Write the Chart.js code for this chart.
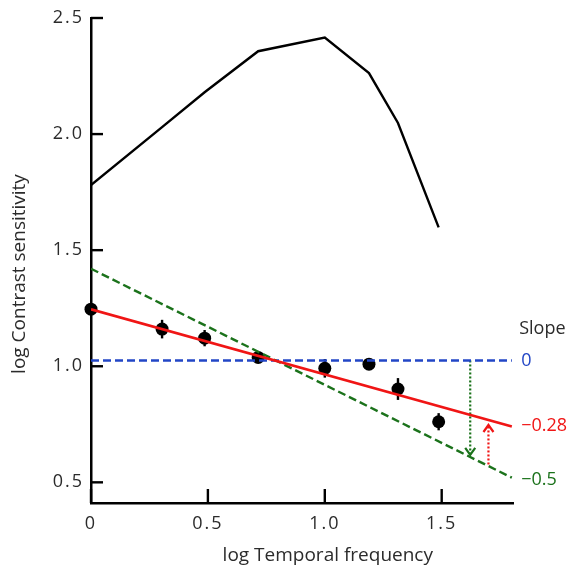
<!DOCTYPE html>
<html><head><meta charset="utf-8">
<script src="https://cdn.jsdelivr.net/npm/chart.js@4/dist/chart.umd.min.js"></script>
<style>html,body{margin:0;padding:0;background:#fff;overflow:hidden}</style>
</head><body>
<canvas id="c" width="571" height="567" style="display:block;width:571px;height:567px"></canvas>
<script>
// ---- data ----
const freqX = [0, 0.304, 0.486, 0.715, 1.0, 1.189, 1.313, 1.487];
const sensitivityCurve = [1.78, 2.03, 2.18, 2.357, 2.416, 2.263, 2.048, 1.598];
const measured = [1.246, 1.16, 1.121, 1.038, 0.991, 1.009, 0.902, 0.761];
const measuredErr = [0.0, 0.04, 0.035, 0.0, 0.04, 0.0, 0.047, 0.037];
const fitX = [0, 1.8];
const fitLine = [1.245, 0.741];     // slope −0.28
const steepLine = [1.42, 0.52];     // slope −0.5
const flatLine = [1.025, 1.025];    // slope 0
const greenArrowX = [1.622, 1.622];
const greenArrowY = [1.025, 0.618];
const redArrowX = [1.70, 1.70];
const redArrowY = [0.577, 0.747];
const slopeLabels = ['0', '\u22120.28', '\u22120.5'];
const slopeLabelY = [1.025, 0.742, 0.51];
const slopeLabelX = 1.84;
const slopeHeader = 'Slope';
const slopeHeaderY = 1.16;
const xTicks = [0, 0.5, 1.0, 1.5];
const yTicks = [0.5, 1.0, 1.5, 2.0, 2.5];
const xTitle = 'log Temporal frequency';
const yTitle = 'log Contrast sensitivity';

const RED = '#f01515', GREEN = '#1b721b', BLUE = '#2246c6', TXT = '#2b2b2b';
const FONT = '"Open Sans", "Noto Sans", sans-serif';
const LW = 2.4;

const pts = (xs, ys) => xs.map((x, i) => ({x, y: ys[i]}));

const extras = {
  id: 'extras',
  beforeDraw(chart) { chart.ctx.letterSpacing = '2px'; },
  beforeDatasetsDraw(chart) {
    const {ctx} = chart, xs = chart.scales.x, ys = chart.scales.y;
    ctx.save();
    ctx.strokeStyle = '#000'; ctx.lineWidth = LW;
    freqX.forEach((x, i) => {
      const e = measuredErr[i];
      if (!e) return;
      const px = xs.getPixelForValue(x);
      ctx.beginPath();
      ctx.moveTo(px, ys.getPixelForValue(measured[i] - e));
      ctx.lineTo(px, ys.getPixelForValue(measured[i] + e));
      ctx.stroke();
    });
    ctx.restore();
  },
  afterDraw(chart) {
    const {ctx, chartArea: a} = chart, xs = chart.scales.x, ys = chart.scales.y;
    ctx.save();
    ctx.letterSpacing = '0px';
    // inward tick marks
    ctx.strokeStyle = '#000'; ctx.lineWidth = LW;
    yTicks.forEach(v => {
      const py = ys.getPixelForValue(v);
      ctx.beginPath(); ctx.moveTo(a.left, py); ctx.lineTo(a.left + 12, py); ctx.stroke();
    });
    xTicks.forEach(v => {
      const px = xs.getPixelForValue(v);
      ctx.beginPath(); ctx.moveTo(px, a.bottom); ctx.lineTo(px, a.bottom - 14); ctx.stroke();
    });
    // arrowheads
    const head = (x, yFrom, yTo, color) => {
      const px = xs.getPixelForValue(x), tip = ys.getPixelForValue(yTo);
      const dir = ys.getPixelForValue(yTo) > ys.getPixelForValue(yFrom) ? 1 : -1;
      ctx.strokeStyle = color; ctx.lineWidth = 2.2; ctx.setLineDash([]);
      ctx.beginPath();
      ctx.moveTo(px - 5, tip - dir * 7);
      ctx.lineTo(px, tip);
      ctx.lineTo(px + 5, tip - dir * 7);
      ctx.stroke();
    };
    head(greenArrowX[1], greenArrowY[0], greenArrowY[1], GREEN);
    head(redArrowX[1], redArrowY[0], redArrowY[1], RED);
    // slope labels
    ctx.textBaseline = 'middle'; ctx.textAlign = 'left';
    ctx.font = '18px ' + FONT;
    ctx.fillStyle = TXT;
    ctx.fillText(slopeHeader, xs.getPixelForValue(slopeLabelX) - 2, ys.getPixelForValue(slopeHeaderY));
    const cols = [BLUE, RED, GREEN];
    slopeLabels.forEach((t, i) => {
      ctx.fillStyle = cols[i];
      ctx.fillText(t, xs.getPixelForValue(slopeLabelX), ys.getPixelForValue(slopeLabelY[i]));
    });
    // axis titles
    ctx.fillStyle = TXT; ctx.font = '19px ' + FONT; ctx.textAlign = 'center';
    ctx.fillText(xTitle, xs.getPixelForValue(1.0) + 3, 556);
    ctx.translate(20, 274); ctx.rotate(-Math.PI / 2);
    ctx.fillText(yTitle, 0, 0);
    ctx.restore();
  }
};

new Chart(document.getElementById('c'), {
  type: 'line',
  data: {
    datasets: [
      {data: pts(freqX, sensitivityCurve), borderColor: '#000', borderWidth: LW, pointRadius: 0, tension: 0},
      {data: pts(fitX, fitLine), borderColor: RED, borderWidth: 2.6, pointRadius: 0},
      {data: pts(fitX, steepLine), borderColor: GREEN, borderWidth: LW, borderDash: [8, 4], pointRadius: 0},
      {data: pts(fitX, flatLine), borderColor: BLUE, borderWidth: LW, borderDash: [8, 4], pointRadius: 0},
      {data: pts(greenArrowX, greenArrowY), borderColor: GREEN, borderWidth: 2.2, borderDash: [2, 2], pointRadius: 0},
      {data: pts(redArrowX, redArrowY), borderColor: RED, borderWidth: 2.2, borderDash: [2, 2], pointRadius: 0},
      {type: 'scatter', data: pts(freqX, measured), showLine: false, pointRadius: 6.5, pointBackgroundColor: '#000', pointBorderWidth: 0, clip: false}
    ]
  },
  options: {
    responsive: false,
    animation: false,
    events: [],
    layout: {padding: {top: 18, right: 58, left: 0, bottom: 0}},
    plugins: {legend: {display: false}, tooltip: {enabled: false}},
    scales: {
      x: {
        type: 'linear', min: 0, max: 1.805,
        afterBuildTicks: s => { s.ticks = xTicks.map(v => ({value: v})); },
        afterFit: s => { s.height = 64; },
        grid: {display: true, drawOnChartArea: false, drawTicks: false, color: 'rgba(0,0,0,0)'},
        border: {display: true, color: '#000', width: 2.5},
        ticks: {color: TXT, font: {family: FONT, size: 18}, padding: 10,
          callback: v => v === 0 ? '0' : v.toFixed(1), maxRotation: 0}
      },
      y: {
        type: 'linear', min: 0.411, max: 2.5,
        afterBuildTicks: s => { s.ticks = yTicks.map(v => ({value: v})); },
        afterFit: s => { s.width = 91; },
        grid: {display: true, drawOnChartArea: false, drawTicks: false, color: 'rgba(0,0,0,0)'},
        border: {display: true, color: '#000', width: 2.5},
        ticks: {color: TXT, font: {family: FONT, size: 18}, padding: 7,
          callback: v => v.toFixed(1)}
      }
    }
  },
  plugins: [extras]
});
</script>
</body></html>
